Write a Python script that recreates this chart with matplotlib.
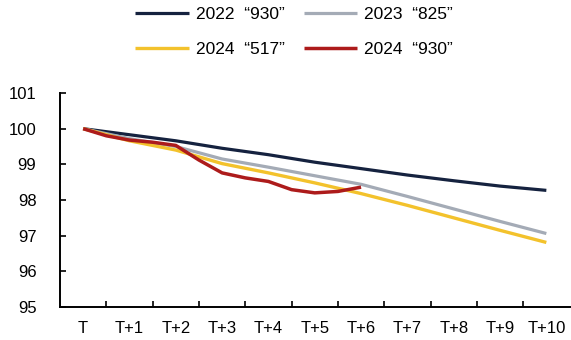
import matplotlib.pyplot as plt

plt.rcParams['font.family'] = ['Liberation Sans', 'DejaVu Sans']

categorias = ['T', 'T+1', 'T+2', 'T+3', 'T+4', 'T+5', 'T+6', 'T+7', 'T+8', 'T+9', 'T+10']

# series (index = days after T)
s2022_930 = [100, 99.83, 99.66, 99.45, 99.27, 99.06, 98.88, 98.70, 98.54, 98.39, 98.27]
s2023_825 = [100, 99.72, 99.50, 99.15, 98.92, 98.68, 98.44, 98.10, 97.75, 97.40, 97.06]
s2024_517 = [100, 99.66, 99.40, 99.02, 98.76, 98.48, 98.18, 97.85, 97.50, 97.15, 96.81]

# 2024 "930" only runs to T+6, read at half steps
x_2024_930 = [0, 0.5, 1, 1.5, 2, 2.5, 3, 3.5, 4, 4.5, 5, 5.5, 6]
s2024_930 = [100, 99.8, 99.68, 99.62, 99.53, 99.12, 98.76, 98.62, 98.52, 98.29, 98.20, 98.24, 98.36]

nomes = ['2022  “930”', '2024  “517”', '2023  “825”', '2024  “930”']
cores = ['#15223f', '#a4abb6', '#f3c22c', '#ad1b1b']

fig = plt.figure(figsize=(5.71, 3.40), dpi=100)
ax = fig.add_axes([60 / 571, 33 / 340, 509.5 / 571, 214 / 340])

xs = list(range(len(categorias)))
l1, = ax.plot(xs, s2022_930, color=cores[0], lw=2.3, solid_capstyle='butt')
l2, = ax.plot(xs, s2023_825, color=cores[1], lw=2.3, solid_capstyle='butt')
l3, = ax.plot(xs, s2024_517, color=cores[2], lw=2.4, solid_capstyle='butt')
l4, = ax.plot(x_2024_930, s2024_930, color=cores[3], lw=2.5, solid_capstyle='butt',
              solid_joinstyle='round')

ax.set_xlim(-0.5, 10.5)
ax.set_ylim(95, 101)
ax.set_yticks(range(95, 102))
ax.set_xticks([i + 0.5 for i in range(10)])
ax.set_xticklabels([])
ax.set_xticks(xs, minor=True)
ax.set_xticklabels(categorias, minor=True)

ax.tick_params(axis='y', direction='in', length=4, width=1.2, pad=17, labelsize=12)
ax.tick_params(axis='x', which='major', direction='in', length=4, width=1.2)
ax.tick_params(axis='x', which='minor', length=0, pad=10, labelsize=12)

for lado in ['top', 'right']:
    ax.spines[lado].set_visible(False)
for lado in ['left', 'bottom']:
    ax.spines[lado].set_linewidth(1.4)
    ax.spines[lado].set_color('black')

# matplotlib fills the legend by column, so the order above gives 2022/2023 on row 1
fig.legend([l1, l3, l2, l4], nomes, ncol=2, loc='upper center',
           bbox_to_anchor=(0.515, 1.025), frameon=False, fontsize=12.5,
           handlelength=3.1, handletextpad=0.4, columnspacing=1.1,
           labelspacing=1.15)

fig.savefig('out.png', dpi=100)
